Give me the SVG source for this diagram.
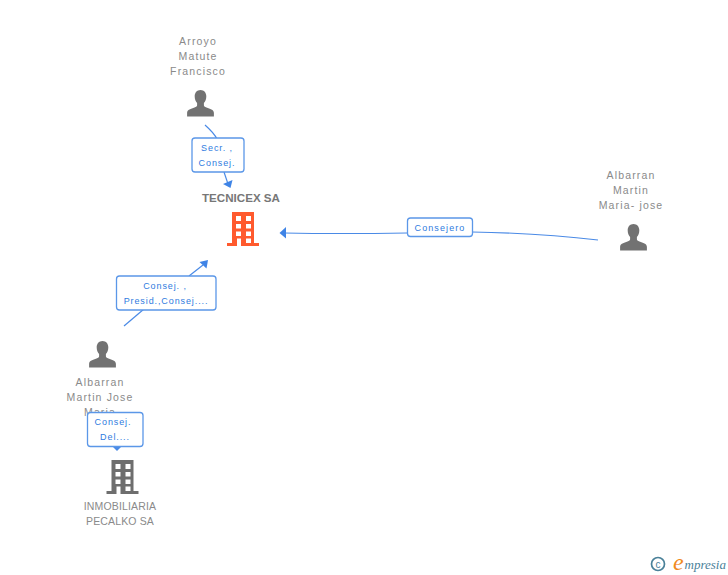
<svg xmlns="http://www.w3.org/2000/svg" width="728" height="575" viewBox="0 0 728 575">
<defs>
<style>
text{font-family:"Liberation Sans",Arial,sans-serif;text-anchor:middle}
.n{font-size:10.5px;fill:#8a8a8a;letter-spacing:1.15px}
.i{font-size:10.5px;fill:#8a8a8a;letter-spacing:.15px}
.b{font-size:11.6px;font-weight:bold;fill:#777}
.l{font-size:9px;fill:#2f7be0;letter-spacing:.9px}
.box{fill:#fff;stroke:#5b97e8;stroke-width:1.3}
.c{fill:none;stroke:#4a8ae6;stroke-width:1.2}
.p{fill:#727272}
</style>
<path id="person" d="M0 0c3.6 0 5.8 2.8 5.8 6.4 0 2.8-1 5-2.4 6.6v2.2c0 1 .8 1.5 2.6 2.200 3.400 1.200 7.400 2.200 7.400 5.400v3.600H-13.400v-3.600c0-3.200 4-4.200 7.400-5.400 1.800-.7 2.600-1.200 2.600-2.200V13c-1.400-1.600-2.400-3.800-2.400-6.600C-5.800 2.800-3.600 0 0 0z"/>
<path id="bld" fill-rule="evenodd" d="M-11 0H11V31H16V34H-16V31H-11zM-7 4V9H-2V4zM3 4V9H8V4zM-7 12V16.500H-2V12zM3 12V16.500H8V12zM-7 19.500V24H-2V19.500zM3 19.500V24H8V19.500zM-6 26.500V34H-2V26.500zM3 26.500V31H8V26.500z"/>
</defs>
<g id="connectors">
<path class="c" d="M205 125Q214 133 217 139"/>
<path class="c" d="M224 172L228 184"/>
<path d="M223 184L232.500 180L230.500 188z" fill="#3f84e6"/>
<path class="c" d="M124 326L144 309"/>
<path class="c" d="M189 276L203 265"/>
<path d="M199.500 262L208 260L206.500 268.500z" fill="#3f84e6"/>
<path class="c" d="M598 240Q540 233 472 232"/>
<path class="c" d="M407 233Q340 234 284 233"/>
<path d="M286 227L279.500 233L286 238.500z" fill="#3f84e6"/>
<path d="M113 447H121L117 451z" fill="#4a8ae6"/>
</g>
<g id="arroyo"><text class="n" x="198" y="45">Arroyo</text><text class="n" x="198" y="60">Matute</text><text class="n" x="198" y="75">Francisco</text><use href="#person" x="200.500" y="90" class="p"/></g>
<g id="tecnicex"><text class="b" x="241" y="202">TECNICEX SA</text><use href="#bld" x="243" y="212" fill="#ff5a2e"/></g>
<g id="maria-jose"><text class="n" x="631" y="179">Albarran</text><text class="n" x="631" y="194">Martin</text><text class="n" x="631" y="209">Maria- jose</text><use href="#person" x="633.500" y="224" class="p"/></g>
<g id="martin-jose"><text class="n" x="100" y="386">Albarran</text><text class="n" x="100" y="401">Martin Jose</text><text class="n" x="100" y="416">Maria</text><use href="#person" x="102.500" y="341" class="p"/></g>
<g id="pecalko"><use href="#bld" x="122.500" y="460" fill="#6e6e6e"/><text class="i" x="120" y="510">INMOBILIARIA</text><text class="i" x="120" y="525">PECALKO SA</text></g>
<g id="label-secr"><rect class="box" x="192" y="138" width="52" height="34" rx="3"/><text class="l" x="217" y="151">Secr. ,</text><text class="l" x="217" y="166">Consej.</text></g>
<g id="label-consejero"><rect class="box" x="407.500" y="218" width="65" height="18.500" rx="3"/><text class="l" x="440" y="231" style="letter-spacing:1.1px">Consejero</text></g>
<g id="label-presid"><rect class="box" x="116.500" y="276" width="99.500" height="34" rx="3"/><text class="l" x="165" y="289">Consej. ,</text><text class="l" x="166" y="304">Presid.,Consej....</text></g>
<g id="label-del"><rect class="box" x="87.500" y="412.500" width="55.500" height="34" rx="3"/><text class="l" x="113" y="425">Consej.</text><text class="l" x="115" y="440">Del....</text></g>
<g id="brand"><circle cx="658" cy="564" r="6.500" fill="none" stroke="#4a8199" stroke-width="1.7"/><text x="658" y="567.500" style="font-size:10px;fill:#4a8199">c</text><text x="673" y="570" style="font-family:'Liberation Serif',serif;font-style:italic;font-size:24px;fill:#f08a1d;text-anchor:start">e</text><text x="684.500" y="569" style="font-family:'Liberation Serif',serif;font-style:italic;font-size:13px;fill:#4a8199;text-anchor:start">mpresia</text></g>
</svg>
